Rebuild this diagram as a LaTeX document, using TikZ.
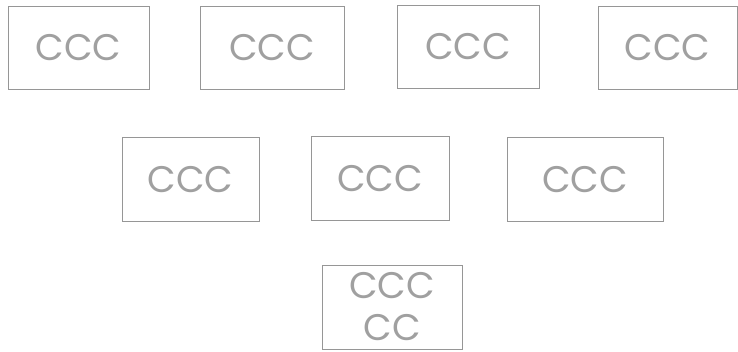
\documentclass[tikz,border=0pt]{standalone}
\usepackage{fontspec}
\setmainfont{Poppins}
\usepackage{tikz}
\definecolor{boxGray}{RGB}{150,150,150}
\definecolor{textGray}{RGB}{160,160,160}
\tikzset{
  cbox/.style={draw=boxGray,line width=0.8pt,inner sep=0pt,align=center,
    text=textGray,font=\fontsize{37}{42}\selectfont}
}
\begin{document}
\begin{tikzpicture}[x=1pt,y=-1pt]
  \useasboundingbox (0,0) rectangle (738,351);
  % top row
  \foreach \n/\cx/\cy/\w in {b1/78.5/47.5/141,b2/272/47.5/144,b3/468/46.5/142,b4/667.5/48/139}
    \node[cbox,minimum width=\w pt,minimum height=83pt] (\n) at (\cx,\cy) {CCC};
  % middle row
  \foreach \n/\cx/\cy/\w in {b5/190.5/179.5/137,b6/380/178.5/138,b7/585/179.5/156}
    \node[cbox,minimum width=\w pt,minimum height=84pt] (\n) at (\cx,\cy) {CCC};
  % bottom
  \node[cbox,minimum width=140pt,minimum height=84pt] (b8) at (392,307) {CCC\\CC};
\end{tikzpicture}
\end{document}
